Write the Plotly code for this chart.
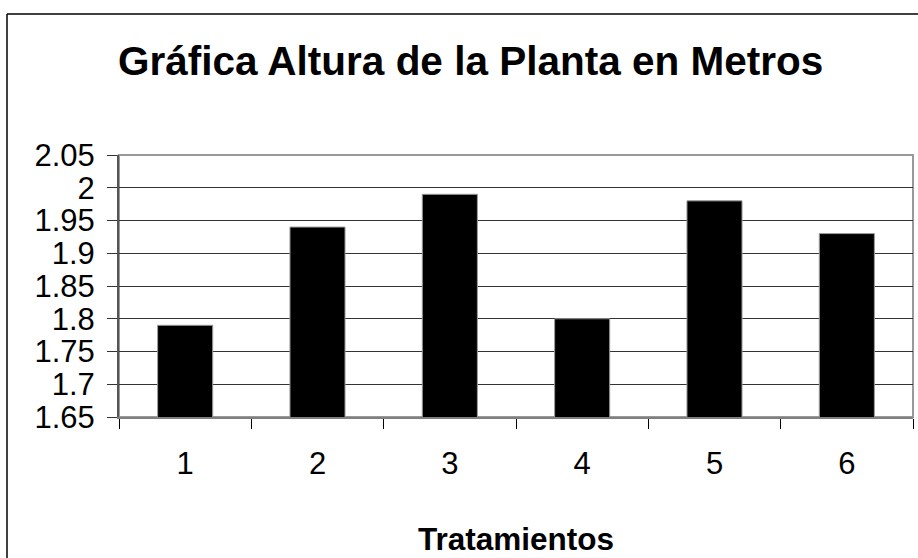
import plotly.graph_objects as go

categories = ["1", "2", "3", "4", "5", "6"]
heights = [1.79, 1.94, 1.99, 1.80, 1.98, 1.93]
y_ticks = [1.65, 1.7, 1.75, 1.8, 1.85, 1.9, 1.95, 2.0, 2.05]
y_tick_labels = ["1.65", "1.7", "1.75", "1.8", "1.85", "1.9", "1.95", "2", "2.05"]

FONT = "Liberation Sans, Arial, sans-serif"

fig = go.Figure(
    go.Bar(
        x=categories,
        y=heights,
        marker=dict(color="black", line=dict(color="#9a9a9a", width=1)),
    )
)

W, H = 918, 558
ml, mr, mt, mb = 119, 5, 155, 141
pw = W - ml - mr
ph = H - mt - mb

def px_x(x):
    return (x - ml) / pw

def px_y(y):
    return (H - mb - y) / ph

fig.update_layout(
    width=W,
    height=H,
    margin=dict(l=ml, r=mr, t=mt, b=mb, pad=0),
    paper_bgcolor="white",
    plot_bgcolor="white",
    bargap=0.584,
    showlegend=False,
    font=dict(family=FONT, color="black"),
    title=dict(
        text="<b>Gráfica Altura de la Planta en Metros</b>",
        font=dict(family=FONT, size=40.5, color="black"),
        x=0.5127,
        xanchor="center",
        y=1 - 61 / H,
        yanchor="middle",
    ),
    xaxis=dict(
        type="category",
        showgrid=False,
        showline=True,
        linecolor="#808080",
        linewidth=2,
        ticks="outside",
        tickson="boundaries",
        ticklen=10,
        tickcolor="black",
        tickwidth=1,
        tickfont=dict(family=FONT, size=31, color="black"),
        ticklabelstandoff=18,
        title=dict(
            text="<b>Tratamientos</b>",
            font=dict(family=FONT, size=31.5, color="black"),
            standoff=48,
        ),
    ),
    yaxis=dict(
        range=[1.65, 2.05],
        tickvals=y_ticks,
        ticktext=y_tick_labels,
        showgrid=True,
        gridcolor="#333333",
        gridwidth=1,
        showline=True,
        linecolor="#555555",
        linewidth=2,
        ticks="outside",
        ticklen=10,
        tickcolor="#333333",
        tickwidth=1,
        tickfont=dict(family=FONT, size=31, color="black"),
        ticklabelstandoff=6,
        zeroline=False,
    ),
    shapes=[
        dict(type="rect", xref="paper", yref="paper", x0=0, x1=1, y0=0, y1=1,
             line=dict(color="#999999", width=2), layer="below"),
        dict(type="line", xref="paper", yref="paper",
             x0=px_x(7), x1=px_x(W + 10), y0=px_y(14), y1=px_y(14),
             line=dict(color="black", width=1.5)),
        dict(type="line", xref="paper", yref="paper",
             x0=px_x(7), x1=px_x(7), y0=px_y(14), y1=px_y(H + 10),
             line=dict(color="black", width=1.5)),
    ],
)

fig.write_html("out.html")
